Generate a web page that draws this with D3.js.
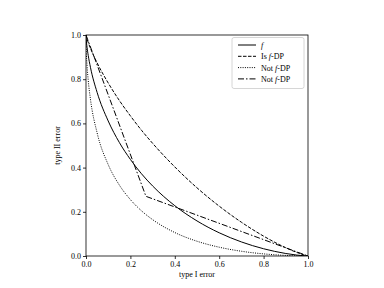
<!DOCTYPE html>
<html>
<head>
<meta charset="utf-8">
<script src="https://cdn.jsdelivr.net/npm/d3@7"></script>
<style>
  body { margin: 0; background: #fff; }
  text { font-family: "Liberation Serif", "DejaVu Serif", serif; }
</style>
</head>
<body>
<div id="chart"></div>
<script>
// type I error (alpha) grid used for the curves
var alphas = [0, 0.0001, 0.001, 0.005, 0.01, 0.02, 0.05, 0.1, 0.15, 0.2, 0.25, 0.3, 0.4, 0.5, 0.6, 0.7, 0.8, 0.9, 0.95, 0.99, 1];

// type II error, one array per curve
var fCurve   = [1, 0.9967, 0.9817, 0.9425, 0.9076, 0.854, 0.7405, 0.611, 0.514, 0.437, 0.372, 0.317, 0.2276, 0.1587, 0.105, 0.0637, 0.0328, 0.0113, 0.0041, 0.0004, 0];
var isDP     = [1, 0.9994, 0.9952, 0.981, 0.966, 0.940, 0.874, 0.783, 0.704, 0.634, 0.569, 0.510, 0.403, 0.3085, 0.2256, 0.1528, 0.0899, 0.0374, 0.016, 0.0024, 0];
var notDP1   = [1, 0.9868, 0.944, 0.859, 0.7956, 0.710, 0.5576, 0.4136, 0.3213, 0.2551, 0.2044, 0.1646, 0.1062, 0.0668, 0.0398, 0.0215, 0.0096, 0.0027, 0.0008, 0.0001, 0];
// piecewise linear one
var notDP2x  = [0, 0.27, 1];
var notDP2y  = [1, 0.27, 0];

var ticks = [0, 0.2, 0.4, 0.6, 0.8, 1.0];
var legendNames = ["f", "Is f-DP", "Not f-DP", "Not f-DP"];
var dashes = [null, "3.5,1.5", "1,1.3", "6,2,1.5,2"];

var width = 384, height = 288;
var pLeft = 86, pRight = 308, pTop = 35, pBottom = 256;

var svg = d3.select('#chart')
  .append('svg')
  .attr('width', width)
  .attr('height', height);

var x = d3.scaleLinear().domain([0, 1]).range([pLeft, pRight]);
var y = d3.scaleLinear().domain([0, 1]).range([pBottom, pTop]);

var line = d3.line()
  .x(d => x(d[0]))
  .y(d => y(d[1]));

var smooth = d3.line()
  .x(d => x(d[0]))
  .y(d => y(d[1]))
  .curve(d3.curveMonotoneX);

var series = [
  { pts: alphas.map((a, i) => [a, fCurve[i]]), gen: smooth },
  { pts: alphas.map((a, i) => [a, isDP[i]]), gen: smooth },
  { pts: alphas.map((a, i) => [a, notDP1[i]]), gen: smooth },
  { pts: notDP2x.map((a, i) => [a, notDP2y[i]]), gen: line }
];

svg.append('clipPath').attr('id', 'clip')
  .append('rect')
  .attr('x', pLeft).attr('y', pTop)
  .attr('width', pRight - pLeft).attr('height', pBottom - pTop);

series.forEach(function (s, i) {
  svg.append('path')
    .attr('d', s.gen(s.pts))
    .attr('fill', 'none')
    .attr('stroke', 'black')
    .attr('stroke-width', 1)
    .attr('stroke-dasharray', dashes[i])
    .attr('clip-path', 'url(#clip)');
});

// axes
var fmt = d3.format('.1f');
var xAxis = svg.append('g')
  .attr('transform', 'translate(0,' + pBottom + ')')
  .call(d3.axisBottom(x).tickValues(ticks).tickFormat(fmt).tickSize(3).tickPadding(2));
var yAxis = svg.append('g')
  .attr('transform', 'translate(' + pLeft + ',0)')
  .call(d3.axisLeft(y).tickValues(ticks).tickFormat(fmt).tickSize(3).tickPadding(2));

[xAxis, yAxis].forEach(function (g) {
  g.select('.domain').remove();
  g.selectAll('line').attr('stroke', 'black').attr('stroke-width', 0.8);
  g.selectAll('text').attr('font-size', 8).attr('fill', 'black')
    .style('font-family', '"Liberation Serif", serif');
});

// frame
svg.append('rect')
  .attr('x', pLeft).attr('y', pTop)
  .attr('width', pRight - pLeft).attr('height', pBottom - pTop)
  .attr('fill', 'none')
  .attr('stroke', 'black')
  .attr('stroke-width', 0.8);

svg.append('text')
  .attr('x', (pLeft + pRight) / 2)
  .attr('y', 277)
  .attr('text-anchor', 'middle')
  .attr('font-size', 8)
  .text('type I error');

svg.append('text')
  .attr('transform', 'translate(60,' + ((pTop + pBottom) / 2) + ') rotate(-90)')
  .attr('text-anchor', 'middle')
  .attr('font-size', 8)
  .text('type II error');

// legend
var lg = svg.append('g');
lg.append('rect')
  .attr('x', 232).attr('y', 37.5)
  .attr('width', 72).attr('height', 51)
  .attr('rx', 2)
  .attr('fill', 'white')
  .attr('stroke', '#cccccc')
  .attr('stroke-width', 0.8);

legendNames.forEach(function (name, i) {
  var yy = 45 + i * 11.3;
  lg.append('line')
    .attr('x1', 238).attr('x2', 256)
    .attr('y1', yy).attr('y2', yy)
    .attr('stroke', 'black')
    .attr('stroke-width', 1)
    .attr('stroke-dasharray', dashes[i]);
  var t = lg.append('text')
    .attr('x', 261).attr('y', yy + 3)
    .attr('font-size', 8);
  var parts = name.split('f');
  t.append('tspan').text(parts[0]);
  t.append('tspan').attr('font-style', 'italic').text('f');
  if (parts[1]) t.append('tspan').text(parts[1]);
});
</script>
</body>
</html>
